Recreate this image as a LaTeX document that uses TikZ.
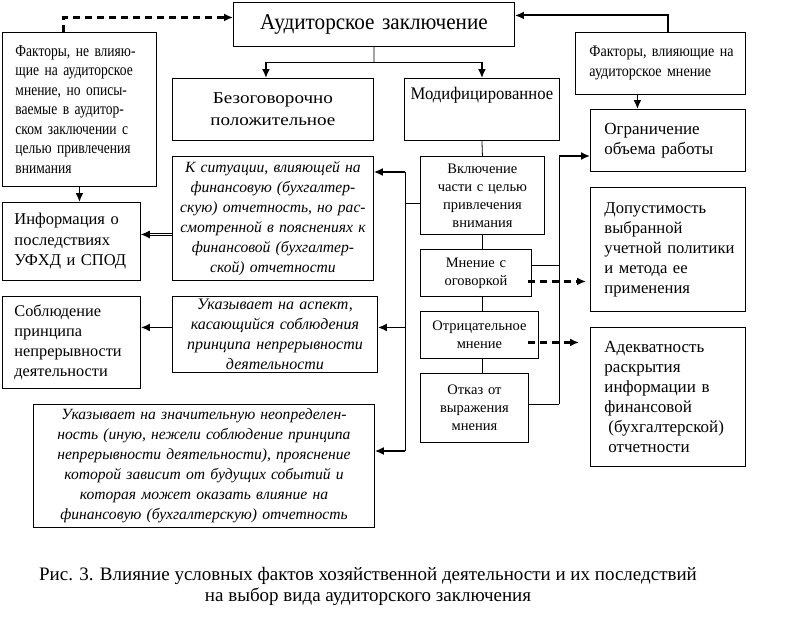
\documentclass[tikz,border=0pt]{standalone}
\usepackage{fontspec}
\setmainfont{Liberation Serif}
\newfontfamily\narrowfont[FakeStretch=0.88]{Liberation Serif}
\newfontfamily\condfont[FakeStretch=0.82]{Liberation Serif}
\newfontfamily\titlefont[FakeStretch=0.94]{Liberation Serif}
\newfontfamily\widefont[FakeStretch=1.15]{Liberation Serif}
\usetikzlibrary{arrows.meta,positioning,calc}
\newcommand{\jline}[1]{\makebox[\linewidth][s]{#1}}

\begin{document}
\begin{tikzpicture}[x=1pt,y=-1pt,
    box/.style={draw, line width=0.9pt, anchor=north west, inner ysep=0pt},
    ctr/.style={box, align=center, inner xsep=2pt},
    lft/.style={box, align=left, inner xsep=14pt},
    conn/.style={line width=0.8pt},
    arr/.style={line width=1.6pt, -{Latex[length=9pt,width=8pt]}},
    darr/.style={line width=2.4pt, dash pattern=on 7pt off 5pt, -{Latex[length=9pt,width=8pt]}},
    dbl/.style={double, double distance=1.4pt, line width=0.7pt, -{Latex[length=9pt,width=8pt]}},
    txt/.style={font=\fontsize{16.6}{20}\selectfont},
    sml/.style={font=\fontsize{14.5}{18}\selectfont},
    itl/.style={font=\itshape\fontsize{15.6}{20}\selectfont}]
  \useasboundingbox (0,0) rectangle (806,621);
  % top level
  \node[ctr, minimum width=281pt, minimum height=44pt, text width=277pt,
    font=\titlefont\fontsize{22.5}{26}\selectfont] (concl) at (233,2) {Аудиторское заключение};
  \node[box, minimum width=154pt, minimum height=154pt, inner xsep=13pt, text width=128pt,
    align=left, font=\condfont\fontsize{16.5}{19.5}\selectfont] (nfact) at (2,32)
    {\jline{Факторы, не влияю-}\\\jline{щие на аудиторское}\\\jline{мнение, но описы-}\\
     \jline{ваемые в аудитор-}\\\jline{ском заключении с}\\\jline{целью привлечения}\\внимания};
  \node[lft, minimum width=170pt, minimum height=62pt, text width=142pt,
    font=\narrowfont\fontsize{16}{20}\selectfont] (fact) at (575,32)
    {Факторы,~влияющие~на\\аудиторское~мнение};
  \node[ctr, minimum width=201pt, minimum height=62pt, text width=197pt,
    font=\widefont\fontsize{16.6}{22}\selectfont] (unq) at (172,78)
    {Безоговорочно\\положительное};
  \node[ctr, minimum width=155pt, minimum height=62pt, text width=151pt, text depth=32pt,
    font=\titlefont\fontsize{17.7}{20}\selectfont] (mod) at (404,78) {Модифицированное};
  % right column
  \node[lft, minimum width=155pt, minimum height=62pt, text width=127pt,
    font=\fontsize{17}{19.5}\selectfont] (limit) at (590,109)
    {Ограничение\\объема~работы};
  \node[lft, txt, minimum width=155pt, minimum height=124pt, text width=127pt] (policy) at (590,187)
    {Допустимость\\выбранной\\учетной~политики\\и~метода~ее\\применения};
  \node[lft, minimum width=155pt, minimum height=139pt, text width=127pt,
    font=\fontsize{17}{20}\selectfont] (adeq) at (590,327)
    {Адекватность\\раскрытия\\информации~в\\финансовой\\\hspace*{4pt}(бухгалтерской)\\\hspace*{4pt}отчетности};
  % left column
  \node[lft, inner xsep=12pt, minimum width=138pt, minimum height=78pt, text width=114pt,
    font=\fontsize{16.5}{20.5}\selectfont] (info) at (2,202)
    {Информация~о\\последствиях\\УФХД~и~СПОД};
  \node[lft, inner xsep=12pt, minimum width=138pt, minimum height=92pt, text width=114pt,
    font=\fontsize{16.3}{20}\selectfont] (going) at (2,296)
    {Соблюдение\\принципа\\непрерывности\\деятельности};
  % explanatory paragraphs
  \node[ctr, itl, minimum width=201pt, minimum height=124pt, text width=197pt] (sit) at (172,156)
    {К ситуации, влияющей на\\финансовую (бухгалтер-\\скую) отчетность, но рас-\\смотренной в пояснениях к\\финансовой (бухгалтер-\\ской) отчетности};
  \node[ctr, minimum width=205pt, minimum height=76pt, text width=201pt,
    font=\itshape\fontsize{16}{20}\selectfont] (aspect) at (172,296)
    {Указывает на аспект,\\касающийся соблюдения\\принципа непрерывности\\деятельности};
  \node[ctr, itl, minimum width=341pt, minimum height=123pt, text width=337pt] (unc) at (33,404)
    {Указывает на значительную неопределен-\\ность (иную, нежели соблюдение принципа\\непрерывности деятельности), прояснение\\которой зависит от будущих событий и\\которая может оказать влияние на\\финансовую (бухгалтерскую) отчетность};
  % kinds of modified opinion
  \node[ctr, sml, minimum width=124pt, minimum height=78pt, text width=120pt] (incl) at (420,156)
    {Включение\\части с целью\\привлечения\\внимания};
  \node[ctr, sml, minimum width=111pt, minimum height=47pt, text width=107pt] (qual) at (420,249)
    {Мнение с\\оговоркой};
  \node[ctr, sml, minimum width=118pt, minimum height=47pt, text width=114pt] (adv) at (420,311)
    {Отрицательное\\мнение};
  \node[ctr, sml, minimum width=108pt, minimum height=69pt, text width=104pt] (discl) at (420,373)
    {Отказ от\\выражения\\мнения};
  % caption
  \node[align=center, font=\fontsize{19}{21}\selectfont] (cap) at (368,586)
    {Рис. 3. Влияние условных фактов хозяйственной деятельности и их последствий\\на выбор вида аудиторского заключения};

  % links to the conclusion
  \draw[darr] ([xshift=-16pt]nfact.north) |- ([yshift=7pt]concl.west);
  \draw[arr, line width=2pt] ([xshift=8pt]fact.north) |- ([yshift=9pt]concl.east);
  \coordinate (br) at (374,62);
  \draw[conn] (concl.south) -- (br);
  \draw[conn] ([xshift=-7pt]unq.north |- br) -- (mod.north |- br);
  \draw[arr] ([xshift=-7pt]unq.north |- br) -- ([xshift=-7pt]unq.north);
  \draw[arr] (mod.north |- br) -- (mod.north);
  \draw[arr] ([xshift=-23pt]fact.south) -- ([xshift=-23pt]fact.south |- limit.north);
  \draw[arr] (nfact.south) -- (nfact.south |- info.north);
  % chain of modified opinions
  \draw[conn] (mod.south) -- (incl.north);
  \draw[conn] (incl.south) -- (incl.south |- qual.north);
  \draw[conn] (incl.south |- qual.south) -- (incl.south |- adv.north);
  \draw[conn] (incl.south |- adv.south) -- (incl.south |- discl.north);
  % left bus
  \coordinate (lbt) at (405,172);
  \coordinate (lbb) at (405,451);
  \draw[conn] (lbt) -- (lbb);
  \draw[conn] ([yshift=-8pt]incl.west) -- ([yshift=-8pt]incl.west -| lbt);
  \draw[arr] (lbt) -- (lbt -| sit.east);
  \draw[arr] ([yshift=7pt]aspect.east -| lbt) -- ([yshift=7pt]aspect.east);
  \draw[arr] (lbb) -- (lbb -| unc.east);
  \draw[dbl] ([yshift=7pt]info.east -| sit.west) -- ([yshift=7pt]info.east);
  \draw[arr] ([yshift=7pt]aspect.west) -- ([yshift=7pt]aspect.west -| going.east);
  % right bus
  \coordinate (rbt) at (559,156);
  \coordinate (rbb) at (559,404);
  \draw[conn] (rbt) -- (rbb);
  \draw[arr] (rbt) -- (rbt -| limit.west);
  \draw[conn] ([yshift=7.5pt]qual.east) -- ([yshift=7.5pt]qual.east -| rbt);
  \draw[conn] ([yshift=3.5pt]discl.east) -- ([yshift=3.5pt]discl.east -| rbt);
  \draw[darr] ([xshift=-4pt,yshift=-8.5pt]qual.east) -- ([xshift=-4pt,yshift=-8.5pt]qual.east -| policy.west);
  \draw[darr] ([xshift=-11pt,yshift=-7.5pt]adv.east) -- ([xshift=-11pt,yshift=-7.5pt]adv.east -| adeq.west);
\end{tikzpicture}
\end{document}
